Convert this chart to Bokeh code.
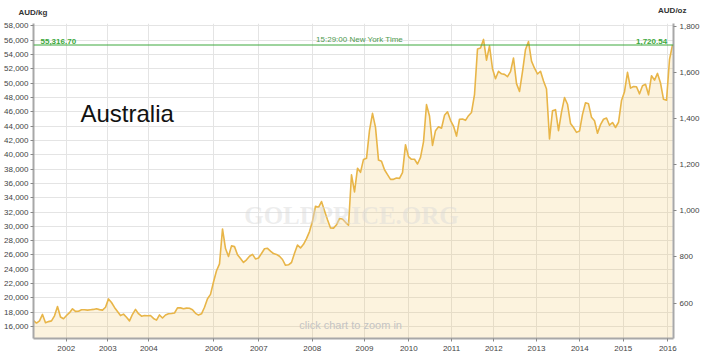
from bokeh.plotting import figure
from bokeh.models import (Range1d, LinearAxis, FixedTicker, SingleIntervalTicker,
                          NumeralTickFormatter, Span, Label, ColumnDataSource)
from bokeh.embed import file_html
from bokeh.resources import INLINE

# ---------------- data ----------------
# Gold price in AUD per kilogram, evenly spaced samples from mid-2001 to early 2016
price_aud_kg = [
    16850, 16500, 16800, 17700, 16550, 16700, 16800, 17500, 18800, 17340,
    17100, 17550, 17950, 18480, 18130, 18150, 18360, 18350, 18300, 18360,
    18400, 18490, 18370, 18300, 18700, 19870, 19370, 18680, 18110, 17540,
    17740, 17300, 16800, 17720, 18410, 17800, 17450, 17540, 17510, 17550,
    17140, 16900, 17630, 17200, 17620, 17800, 17830, 17900, 18620, 18615,
    18490, 18580, 18560, 18360, 17850, 17610, 17780, 18708, 19900, 20500,
    22230, 23800, 24750, 29635, 26900, 25800, 27270, 27170, 26040, 25500,
    24960, 25320, 25830, 26090, 25450, 25580, 26210, 26870, 26930, 26550,
    26200, 26080, 25820, 25370, 24560, 24630, 24950, 26240, 27400, 26984,
    27490, 28280, 29270, 30750, 32800, 32657, 33460, 32192, 30920, 29770,
    29750, 30210, 31100, 31030, 30560, 30150, 37200, 34800, 38100, 37540,
    39340, 39500, 43400, 45770, 43817, 39250, 39100, 37900, 37220, 36550,
    36560, 36740, 36700, 37500, 41399, 39740, 39360, 39360, 38700, 39632,
    41800, 47000, 45400, 41300, 43352, 43900, 43700, 45500, 46000, 44800,
    44000, 42600, 44950, 44980, 44800, 45450, 45900, 48400, 54760, 54900,
    56100, 53210, 55200, 52000, 50600, 51650, 51300, 51220, 50900, 51600,
    53500, 49920, 48839, 51600, 54700, 55800, 53070, 52080, 51270, 51650,
    50300, 49165, 42200, 46140, 46290, 43352, 45950, 47980, 47050, 44360,
    43800, 43119, 43300, 45630, 47250, 47100, 45220, 44747, 43000, 44200,
    44950, 45119, 44120, 44500, 43800, 44530, 47560, 48800, 51500, 49300,
    49520, 49490, 48500, 49630, 49830, 48360, 51030, 50410, 51350, 50010,
    47740, 47600, 53300, 55316.70,
]

# year boundaries expressed as sample index (the chart's time axis is uneven)
year_labels = ["2002", "2003", "2004", "2006", "2007", "2008", "2009",
               "2010", "2011", "2012", "2013", "2014", "2015", "2016"]
year_tick_index = [10.9, 24.77, 38.43, 60.1, 75.1, 92.9, 110.33,
                   125.1, 139.33, 153.43, 167.67, 182.1, 196.57, 211.43]

current_price_kg = 55316.70
current_price_oz = 1720.54
quote_time = "15:29:00 New York Time"
country = "Australia"
left_unit = "AUD/kg"
right_unit = "AUD/oz"

OZ_PER_KG = 32.1507466
y_lo, y_hi = 14340, 58320

# ---------------- figure ----------------
src = ColumnDataSource(dict(i=list(range(len(price_aud_kg))), v=price_aud_kg))

p = figure(width=702, height=362, output_backend="svg", toolbar_location=None,
           x_range=Range1d(0, 213.33), y_range=Range1d(y_lo, y_hi),
           min_border_left=33, min_border_right=29,
           min_border_top=23, min_border_bottom=24)
p.outline_line_color = None
p.background_fill_color = "white"
p.border_fill_color = "white"

p.extra_y_ranges = {"oz": Range1d(y_lo / OZ_PER_KG, y_hi / OZ_PER_KG)}

tick_font = "Liberation Sans"
tick_color = "#444444"
axis_color = "#a8a8a8"

def style_axis(ax):
    ax.major_label_text_font = tick_font
    ax.major_label_text_font_size = "8px"
    ax.major_label_text_color = tick_color
    ax.axis_line_color = axis_color
    ax.axis_line_width = 2
    ax.major_tick_line_color = "#888888"
    ax.major_tick_in = 0
    ax.major_tick_out = 3
    ax.minor_tick_line_color = None
    ax.major_label_standoff = 2

# x axis
xa = p.xaxis[0]
xa.ticker = FixedTicker(ticks=year_tick_index)
xa.major_label_overrides = {t: lab for t, lab in zip(year_tick_index, year_labels)}
style_axis(xa)
xa.major_label_standoff = 4

# left axis
ya = p.yaxis[0]
ya.ticker = SingleIntervalTicker(interval=2000)
ya.formatter = NumeralTickFormatter(format="0,0")
style_axis(ya)
ya.major_label_standoff = 1

# right axis (AUD/oz)
ra = LinearAxis(y_range_name="oz", ticker=SingleIntervalTicker(interval=200),
                formatter=NumeralTickFormatter(format="0,0"))
style_axis(ra)
ra.major_label_standoff = 2
p.add_layout(ra, "right")

p.xgrid.grid_line_color = "#e4e4e4"
p.ygrid.grid_line_color = "#e4e4e4"

# area + line
p.varea(x="i", y1=0, y2="v", source=src, fill_color="#f0c35a", fill_alpha=0.2)
p.line(x="i", y="v", source=src, line_color="#e8b548", line_width=1.6,
       line_join="round")

# current price line
green = "#3ca83c"
p.add_layout(Span(location=current_price_kg, dimension="width",
                  line_color=green, line_width=1))

def add_label(where="center", **kw):
    base = dict(text_font=tick_font)
    base.update(kw)
    p.add_layout(Label(**base), where)

add_label(x=2.33, y=current_price_kg, text=f"{current_price_kg:,.2f}",
          text_color=green, text_font_size="8px", text_font_style="bold",
          text_baseline="bottom", y_offset=1)
add_label(x=108.7, y=current_price_kg, text=quote_time, text_color="#4f9a4f",
          text_font_size="8px", text_align="center", text_baseline="bottom",
          y_offset=1)
add_label(x=211.2, y=current_price_kg, text=f"{current_price_oz:,.2f}",
          text_color=green, text_font_size="8px", text_font_style="bold",
          text_align="right", text_baseline="bottom", y_offset=1)

# unit titles (in the top border panel)
add_label(where="above", x=-15, y=11.3, x_units="screen", y_units="screen",
          text=left_unit, text_color="#333333", text_font_size="8px",
          text_font_style="bold", text_baseline="middle")
add_label(where="above", x=653, y=4.3, x_units="screen", y_units="screen",
          text=right_unit, text_color="#333333", text_font_size="8px",
          text_font_style="bold", text_baseline="middle", text_align="right")

# country name
add_label(x=15.67, y=45700, text=country, text_color="#111111",
          text_font_size="24px", text_baseline="middle")

# watermark
add_label(x=106, y=31540, text="GOLDPRICE.ORG", text_color="#d8d8d8",
          text_alpha=0.45, text_font="Liberation Serif", text_font_style="bold",
          text_font_size="25px", text_align="center", text_baseline="middle")

# zoom hint
add_label(x=105.7, y=16190, text="click chart to zoom in", text_color="#c4c4c4",
          text_font_size="11px", text_align="center", text_baseline="middle")

open("out.html", "w").write(file_html(p, INLINE))
